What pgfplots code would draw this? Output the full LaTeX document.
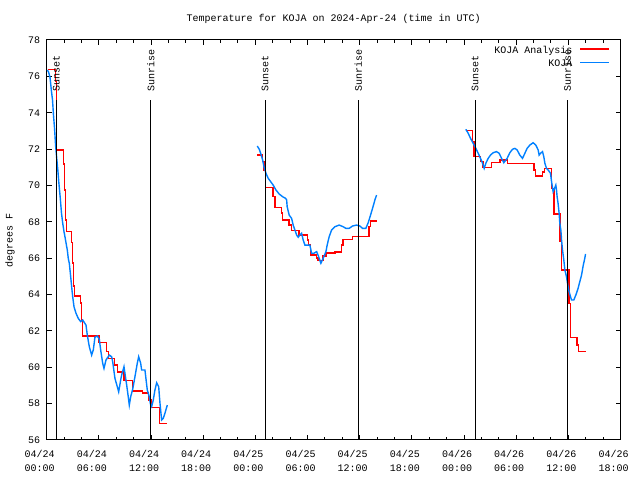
\documentclass[border=0pt]{standalone}
\usepackage{fontspec}
\setmainfont{Liberation Mono}
\usepackage{pgfplots}
\pgfplotsset{compat=1.18}
\definecolor{kred}{RGB}{255,0,0}
\definecolor{kblue}{RGB}{0,128,255}
\begin{document}
\begin{tikzpicture}[font=\fontsize{10bp}{12bp}\selectfont]
\path[use as bounding box] (0,0) rectangle (640bp,480bp);
\node at (333.6bp,461bp) {Temperature for KOJA on 2024-Apr-24 (time in UTC)};
\node[rotate=90] at (10bp,240bp) {degrees F};
\begin{axis}[
  at={(46.7bp,40bp)}, anchor=south west,
  width=573.8bp, height=400bp, scale only axis,
  xmin=0, xmax=66, ymin=56, ymax=78,
  xtick={0,6,...,66},
  xticklabels={{04/24\\00:00},{04/24\\06:00},{04/24\\12:00},{04/24\\18:00},{04/25\\00:00},{04/25\\06:00},{04/25\\12:00},{04/25\\18:00},{04/26\\00:00},{04/26\\06:00},{04/26\\12:00},{04/26\\18:00}},
  minor x tick num=2,
  ytick={56,58,...,78},
  tick align=inside,
  major tick length=5bp, minor tick length=3bp,
  axis line style={line width=1bp},
  every tick/.style={black, line width=1bp},
  /pgf/number format/assume math mode=true,
  ticklabel style={font=\fontsize{10bp}{13.4bp}\selectfont},
  xticklabel style={align=center, xshift=-7bp, yshift=-7bp},
  yticklabel style={xshift=-3bp},
  legend style={at={(1,1)}, anchor=north east, xshift=-10.5bp, yshift=-6bp,
    draw=none, fill=none, inner sep=0pt, row sep=3.8bp, column sep=7bp,
    font=\fontsize{10bp}{12bp}\selectfont,
    nodes={inner sep=0pt, text height=7.5bp, text depth=2bp}},
  legend cell align=right,
  legend plot pos=right,
  legend image code/.code={\draw[#1] (0bp,2bp) -- (29bp,2bp);},
]
% KOJA Analysis (red), segment 1
\addplot[color=kred, line width=1.4bp, sharp plot, no markers] coordinates {
(0.15,76.39) (1.03,76.39) (1.03,75.71) (1.15,75.71) (1.15,71.95) (1.91,71.95)
(1.91,71.18) (2.05,71.18) (2.05,69.75) (2.16,69.75) (2.16,68.10) (2.25,68.10)
(2.25,67.46) (2.83,67.46) (2.83,66.85) (2.97,66.85) (2.97,65.73) (3.06,65.73)
(3.06,64.47) (3.17,64.47) (3.17,63.92) (3.89,63.92) (3.89,63.53) (4.00,63.53)
(4.00,62.60) (4.14,62.60) (4.14,61.72) (6.01,61.72) (6.01,61.36) (6.88,61.36)
(6.88,60.86) (7.11,60.86) (7.11,60.49) (7.80,60.49) (7.80,60.12) (8.14,60.12)
(8.14,59.75) (8.89,59.75) (8.89,59.26) (9.87,59.26) (9.87,58.69) (11.04,58.69)
(11.04,58.58) (11.71,58.58) (11.71,58.20) (11.99,58.20) (11.99,57.80) (12.97,57.80)
(12.97,56.92) (13.87,56.92)};
\addlegendentry{KOJA Analysis}
% KOJA (blue), segment 1
\addplot[color=kblue, line width=1.4bp, sharp plot, no markers] coordinates {
(0.07,76.35) (0.21,76.24) (0.38,75.96) (0.53,75.25) (0.67,74.70) (0.78,73.87)
(0.90,73.16) (1.02,72.22) (1.15,71.51) (1.28,70.85) (1.41,70.08) (1.56,69.31)
(1.70,68.48) (1.84,67.93) (1.99,67.46) (2.10,67.18) (2.30,66.63) (2.37,66.45)
(2.48,65.99) (2.60,65.72) (2.76,64.98) (2.87,64.43) (2.99,63.88) (3.14,63.33)
(3.37,62.97) (3.63,62.69) (3.91,62.51) (4.14,62.60) (4.52,62.32) (4.67,61.77)
(4.90,61.13) (5.17,60.67) (5.36,60.95) (5.55,61.65) (5.82,61.72) (6.05,61.54)
(6.21,60.95) (6.44,60.22) (6.59,59.94) (6.82,60.40) (7.20,60.67) (7.47,60.58)
(7.59,60.31) (7.85,59.39) (8.12,58.93) (8.28,58.65) (8.51,59.30) (8.62,59.57)
(8.89,60.03) (9.00,59.67) (9.20,59.02) (9.38,58.38) (9.50,57.92) (9.66,58.38)
(9.89,58.79) (10.15,59.48) (10.42,60.22) (10.58,60.58) (10.81,60.22) (10.92,59.85)
(11.30,59.85) (11.57,58.75) (11.80,58.38) (11.96,57.92) (12.07,57.83) (12.26,58.20)
(12.45,58.75) (12.65,59.15) (12.88,58.93) (13.03,58.02) (13.22,57.10) (13.41,57.19)
(13.60,57.47) (13.87,57.92)};
\addlegendentry{KOJA}
% red segment 2
\addplot[color=kred, line width=1.4bp, sharp plot, no markers, forget plot] coordinates {
(24.22,71.67) (24.84,71.67) (24.84,71.31) (24.99,71.31) (24.99,70.85) (25.18,70.85)
(25.18,69.90) (26.05,69.90) (26.05,69.38) (26.28,69.38) (26.28,68.80) (26.98,68.80)
(26.98,68.48) (27.14,68.48) (27.14,68.10) (27.89,68.10) (27.89,67.82) (28.17,67.82)
(28.17,67.51) (29.04,67.51) (29.04,67.27) (30.01,67.27) (30.01,67.00) (30.13,67.00)
(30.13,66.72) (30.31,66.72) (30.31,66.17) (31.00,66.17) (31.00,66.01) (31.19,66.01)
(31.19,65.86) (31.77,65.86) (31.77,66.12) (32.11,66.12) (32.11,66.28) (33.15,66.28)
(33.15,66.34) (33.92,66.34) (33.92,66.72) (34.10,66.72) (34.10,67.04) (35.18,67.04)
(35.18,67.18) (37.09,67.18) (37.09,67.73) (37.25,67.73) (37.25,68.04) (37.94,68.04)};
% blue segment 2
\addplot[color=kblue, line width=1.4bp, sharp plot, no markers, forget plot] coordinates {
(24.22,72.17) (24.45,71.99) (24.61,71.77) (24.84,71.40) (24.99,71.03) (25.22,70.67)
(25.48,70.39) (25.76,70.21) (26.05,70.02) (26.37,69.75) (26.74,69.53) (27.14,69.38)
(27.48,69.29) (27.60,69.20) (27.66,68.83) (27.89,68.37) (28.17,68.19) (28.35,67.82)
(28.55,67.55) (28.75,67.27) (28.93,67.15) (29.12,67.27) (29.32,67.37) (29.50,67.00)
(29.70,66.72) (30.27,66.72) (30.47,66.27) (30.73,66.27) (31.05,66.36) (31.28,66.08)
(31.54,65.72) (31.80,65.99) (32.12,66.36) (32.26,66.72) (32.49,67.18) (32.77,67.55)
(33.15,67.73) (33.64,67.82) (34.10,67.73) (34.41,67.64) (34.79,67.64) (35.18,67.77)
(35.64,67.82) (36.02,67.77) (36.33,67.64) (36.71,67.64) (36.98,67.95) (37.25,68.37)
(37.48,68.74) (37.75,69.20) (37.94,69.47)};
% red segment 3
\addplot[color=kred, line width=1.4bp, sharp plot, no markers, forget plot] coordinates {
(48.21,73.01) (48.98,73.01) (48.98,72.39) (49.13,72.39) (49.13,71.58) (49.90,71.58)
(49.90,71.31) (50.20,71.31) (50.20,71.00) (51.17,71.00) (51.17,71.25) (52.12,71.25)
(52.12,71.40) (52.98,71.40) (52.98,71.20) (56.07,71.20) (56.07,70.85) (56.20,70.85)
(56.20,70.52) (57.03,70.52) (57.03,70.74) (57.24,70.74) (57.24,70.94) (58.07,70.94)
(58.07,69.84) (58.34,69.84) (58.34,68.43) (59.02,68.43) (59.02,66.91) (59.22,66.91)
(59.22,65.35) (60.09,65.35) (60.09,63.52) (60.25,63.52) (60.25,61.65) (61.01,61.65)
(61.01,61.22) (61.20,61.22) (61.20,60.88) (61.98,60.88)};
% blue segment 3
\addplot[color=kblue, line width=1.4bp, sharp plot, no markers, forget plot] coordinates {
(48.21,73.09) (48.48,72.87) (48.75,72.59) (49.05,72.32) (49.36,72.04) (49.63,71.77)
(49.90,71.49) (50.13,71.22) (50.32,70.94) (50.51,71.22) (50.78,71.49) (51.05,71.67)
(51.35,71.80) (51.74,71.86) (52.04,71.77) (52.32,71.49) (52.58,71.25) (52.81,71.40)
(52.96,71.49) (53.27,71.80) (53.58,71.99) (53.85,72.04) (54.11,71.95) (54.42,71.67)
(54.73,71.49) (55.00,71.77) (55.26,72.04) (55.57,72.22) (55.95,72.35) (56.26,72.22)
(56.53,71.95) (56.64,71.67) (56.80,71.77) (57.03,71.86) (57.18,71.58) (57.30,71.22)
(57.49,70.94) (57.68,70.85) (57.95,70.67) (58.07,70.21) (58.25,69.66) (58.37,69.79)
(58.56,70.02) (58.64,69.75) (58.71,69.38) (58.82,69.02) (58.94,68.47) (59.02,67.92)
(59.14,67.55) (59.22,67.00) (59.33,66.45) (59.48,65.90) (59.60,65.35) (59.79,64.98)
(59.97,64.43) (60.09,64.16) (60.25,63.88) (60.37,63.70) (60.63,63.70) (60.86,63.97)
(61.12,64.34) (61.32,64.71) (61.52,65.07) (61.70,65.57) (61.89,65.99) (61.98,66.23)};
% sunset / sunrise lines
\addplot[black, line width=1bp, forget plot] coordinates {(1.10,56) (1.10,74.7)};
\addplot[black, line width=1bp, forget plot] coordinates {(11.96,56) (11.96,74.7)};
\addplot[black, line width=1bp, forget plot] coordinates {(25.13,56) (25.13,74.7)};
\addplot[black, line width=1bp, forget plot] coordinates {(35.83,56) (35.83,74.7)};
\addplot[black, line width=1bp, forget plot] coordinates {(49.28,56) (49.28,74.7)};
\addplot[black, line width=1bp, forget plot] coordinates {(59.88,56) (59.88,74.7)};
\node[rotate=90, anchor=west, inner sep=0pt] at (axis cs:1.10,75.15) {Sunset};
\node[rotate=90, anchor=west, inner sep=0pt] at (axis cs:11.96,75.15) {Sunrise};
\node[rotate=90, anchor=west, inner sep=0pt] at (axis cs:25.13,75.15) {Sunset};
\node[rotate=90, anchor=west, inner sep=0pt] at (axis cs:35.83,75.15) {Sunrise};
\node[rotate=90, anchor=west, inner sep=0pt] at (axis cs:49.28,75.15) {Sunset};
\node[rotate=90, anchor=west, inner sep=0pt] at (axis cs:59.88,75.15) {Sunrise};
\end{axis}
\end{tikzpicture}
\end{document}
